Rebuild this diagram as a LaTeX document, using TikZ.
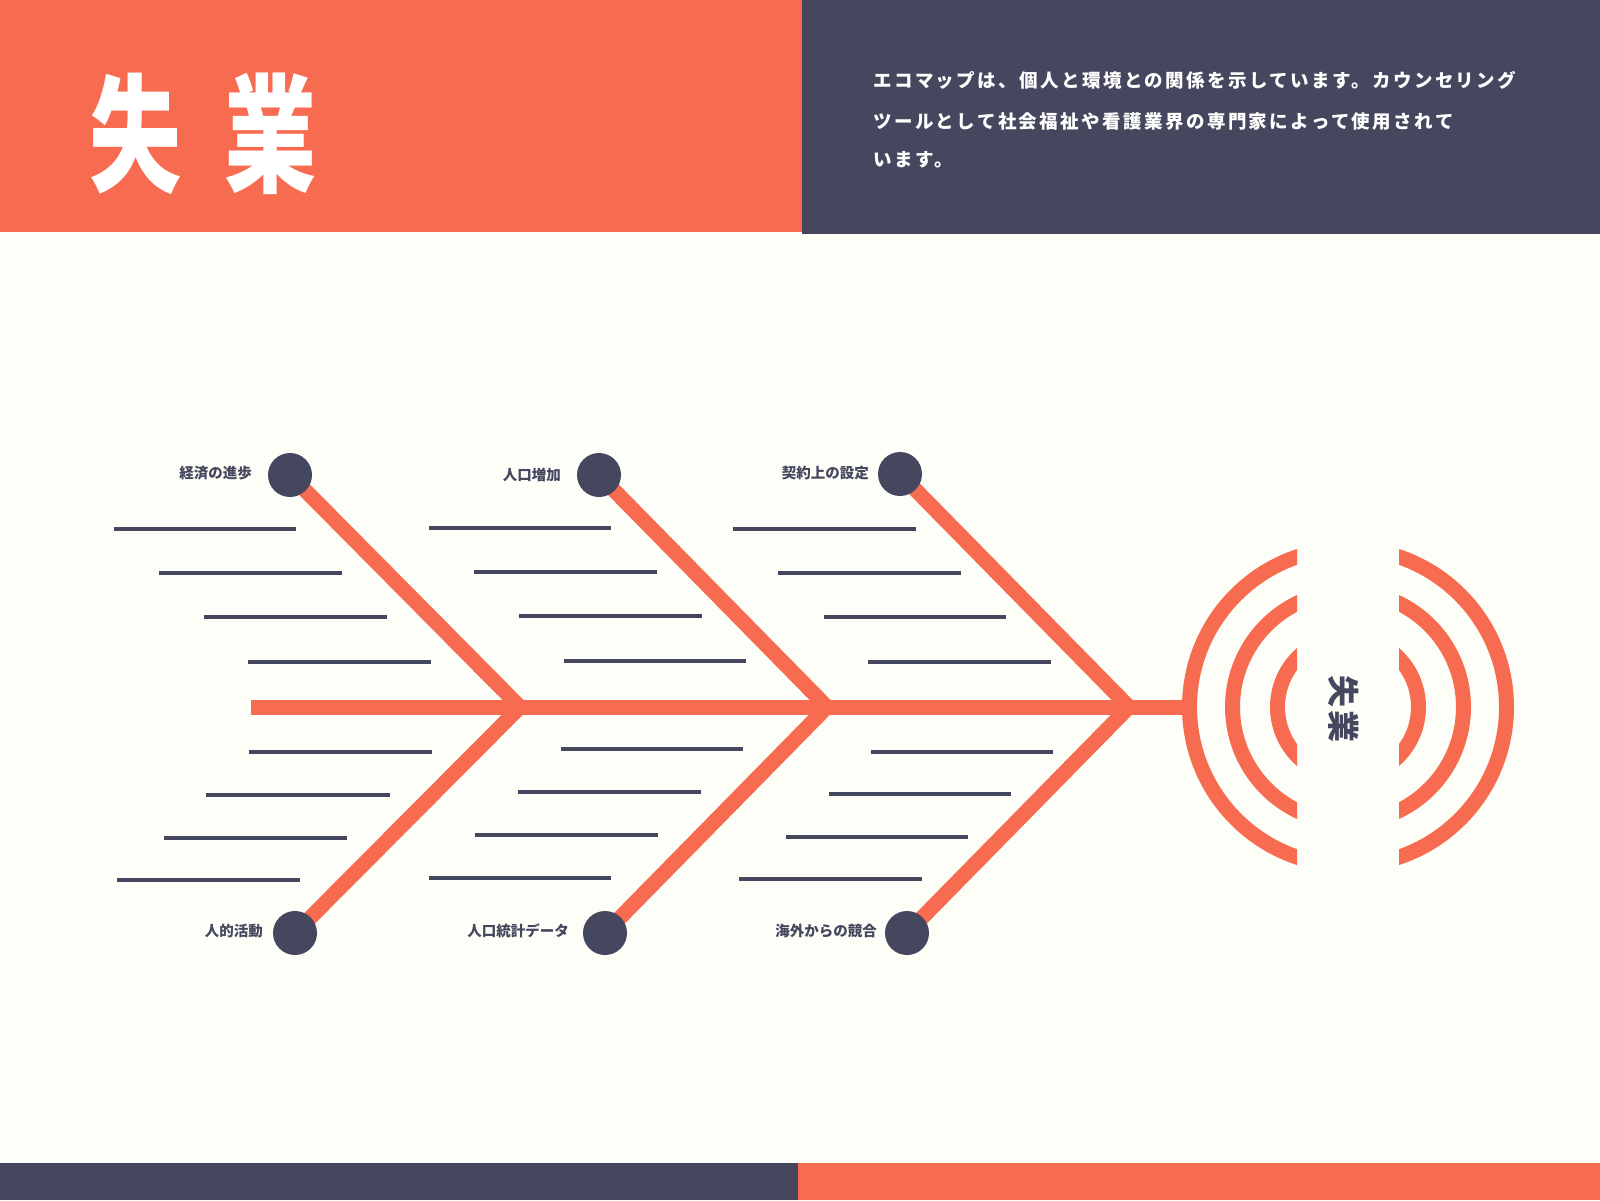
\documentclass[tikz,border=0pt]{standalone}
\usepackage{fontspec}
\newfontfamily\cjk{Noto Sans CJK JP}
\definecolor{coral}{HTML}{F76C51}
\definecolor{navy}{HTML}{45475E}
\definecolor{cream}{HTML}{FDFEF7}
\pgfdeclarelayer{back}
\pgfdeclarelayer{mid}
\pgfsetlayers{back,mid,main}
\tikzset{
  bone/.style={draw=coral, line width=15pt, line join=miter, line cap=butt},
  tickline/.style={draw=navy, line width=4pt},
  dot/.style={circle, fill=navy, minimum size=44pt, inner sep=0pt},
  lab/.style={anchor=east, text=navy, inner sep=0pt, font=\cjk\bfseries\fontsize{14.5}{16}\selectfont},
  desc/.style={anchor=west, text=white, inner sep=0pt, font=\cjk\bfseries\fontsize{18.5}{20}\selectfont\addfontfeature{LetterSpace=13}},
  ring/.style={draw=coral, line width=15pt},
}
\begin{document}
\begin{tikzpicture}[x=1pt,y=-1pt]
\useasboundingbox (0,0) rectangle (1600,1200);
\begin{pgfonlayer}{back}
\fill[cream] (0,0) rectangle (1600,1200);
\fill[coral] (0,0) rectangle (802,232);
\fill[navy] (802,0) rectangle (1600,234);
\fill[navy] (0,1163) rectangle (798,1200);
\fill[coral] (798,1163) rectangle (1600,1200);
\end{pgfonlayer}

% title
\node[text=white, inner sep=0pt, xscale=0.72, font=\cjk\bfseries\fontsize{128}{130}\selectfont] (title1) at (136,134) {失};
\node[text=white, inner sep=0pt, xscale=0.72, font=\cjk\bfseries\fontsize{128}{130}\selectfont] (title2) at (271,134) {業};

% description
\node[desc] (d1) at (873,80) {エコマップは、個人と環境との関係を示しています。カウンセリング};
\node[desc] (d2) at (873,122) {ツールとして社会福祉や看護業界の専門家によって使用されて};
\node[desc] (d3) at (873,160) {います。};

% dots
\node[dot] (t1) at (290,475) {};
\node[dot] (t2) at (599,475) {};
\node[dot] (t3) at (900,474) {};
\node[dot] (b1) at (295,933) {};
\node[dot] (b2) at (605,933) {};
\node[dot] (b3) at (907,933) {};
\coordinate (j1) at (520,707);
\coordinate (j2) at (827,707);
\coordinate (j3) at (1129,707);
\coordinate (s0) at (251,707);
\coordinate (s1) at (1190,707);
\coordinate (hub) at (1348,707);

% labels
\node[lab] (l1) at (252,473) {経済の進歩};
\node[lab] (l2) at (561,475) {人口増加};
\node[lab] (l3) at (869,473) {契約上の設定};
\node[lab] (l4) at (263,931) {人的活動};
\node[lab] (l5) at (569,931) {人口統計データ};
\node[lab] (l6) at (877,931) {海外からの競合};

% centre label
\node[text=navy, inner sep=0pt, rotate=-90, font=\cjk\bfseries\fontsize{32}{34}\selectfont\addfontfeature{LetterSpace=8}] (head) at (1344,709) {失業};

\begin{pgfonlayer}{mid}
\draw[bone] (s0) -- (s1);
\draw[bone] (t1.center) -- (j1) -- (b1.center);
\draw[bone] (t2.center) -- (j2) -- (b2.center);
\draw[bone] (t3.center) -- (j3) -- (b3.center);
\begin{scope}
\clip (1100,500) rectangle (1297,920) (1399,500) rectangle (1600,920);
\draw[ring] (hub) circle[radius=158.5];
\draw[ring] (hub) circle[radius=115.5];
\draw[ring] (hub) circle[radius=70.5];
\end{scope}
\foreach \xa/\xb/\yy in {114/296/529, 159/342/573, 204/387/617, 248/431/662,
                         249/432/752, 206/390/795, 164/347/838, 117/300/880,
                         429/611/528, 474/657/572, 519/702/616, 564/746/661,
                         561/743/749, 518/701/792, 475/658/835, 429/611/878,
                         733/916/529, 778/961/573, 824/1006/617, 868/1051/662,
                         871/1053/752, 829/1011/794, 786/968/837, 739/922/879}
  \draw[tickline] (\xa,\yy) -- (\xb,\yy);
\end{pgfonlayer}
\end{tikzpicture}
\end{document}
